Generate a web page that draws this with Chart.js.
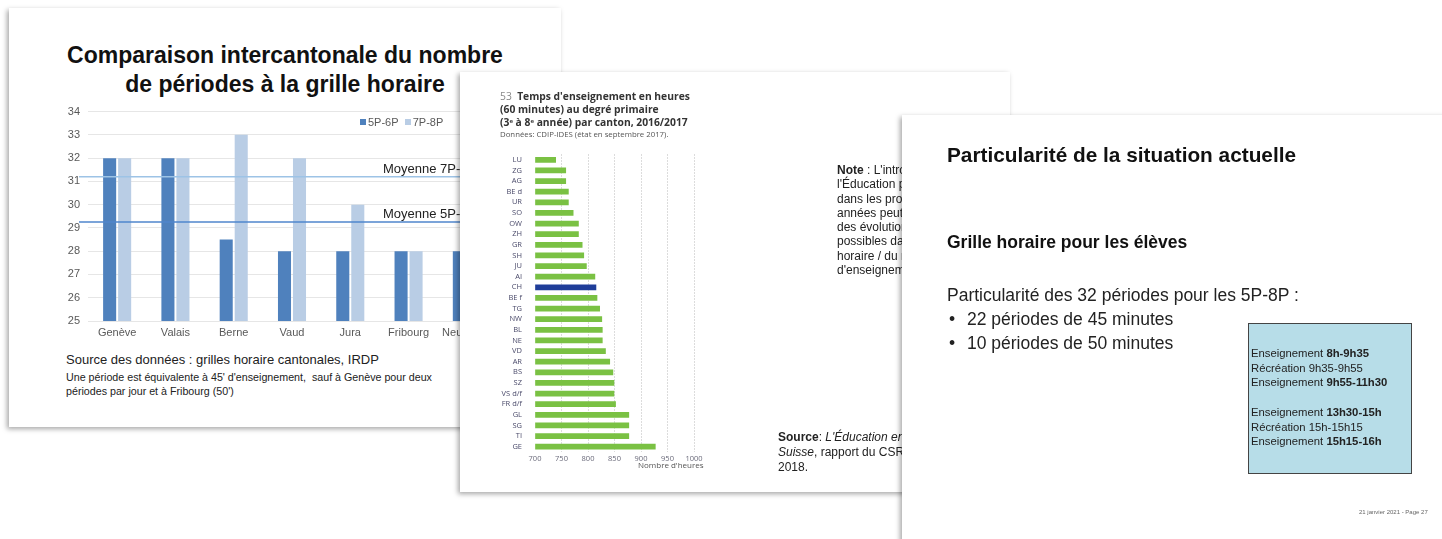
<!DOCTYPE html>
<html>
<head>
<meta charset="utf-8">
<title>Grille horaire</title>
<script src="https://cdn.jsdelivr.net/npm/chart.js"></script>
<style>
  body, html { margin: 0; width: 1442px; height: 539px; overflow: hidden; background: #fff; font-family: "Liberation Sans", Arial, sans-serif; }
  .slide { position: absolute; background: #fff; box-shadow: -2px 2px 5px rgba(0,0,0,0.35); overflow: hidden; }
  .abs { position: absolute; white-space: nowrap; }
  #s1 { left: 9px; top: 8px; width: 552px; height: 419px; z-index: 1; }
  #s2 { left: 460px; top: 72px; width: 550px; height: 420px; z-index: 2; }
  #s3 { left: 902px; top: 115px; width: 560px; height: 440px; z-index: 3; }
  .sq { display: inline-block; width: 6px; height: 6px; margin-right: 2px; vertical-align: 1px; }
  sup { font-size: 6px; line-height: 0; vertical-align: 3px; }
</style>
</head>
<body>
<div class="slide" id="s1">
  <div class="abs" style="left:0;width:552px;top:33px;text-align:center;font-weight:bold;font-size:23px;line-height:29px;color:#111;">Comparaison intercantonale du nombre<br>de périodes à la grille horaire</div>
  <canvas id="chart1" width="500" height="248" class="abs" style="left:41px;top:89px;"></canvas>
  <div class="abs" style="left:351px;top:108px;font-size:11px;color:#595959;"><span class="sq" style="background:#4f81bd"></span>5P-6P&nbsp;&nbsp;<span class="sq" style="background:#b9cde5"></span>7P-8P</div>
  <div class="abs" style="left:57px;top:344px;font-size:13px;color:#222;">Source des données : grilles horaire cantonales, IRDP</div>
  <div class="abs" style="left:57px;top:362px;font-size:10.7px;line-height:14px;color:#222;">Une période est équivalente à 45' d'enseignement,&nbsp; sauf à Genève pour deux<br>périodes par jour et à Fribourg (50')</div>
</div>

<div class="slide" id="s2">
  <div class="abs" style="left:40px;top:18px;font-family:'Open Sans',sans-serif;font-size:10.3px;line-height:13px;color:#333;font-weight:bold;"><span style="font-weight:normal;color:#888;">53</span>&nbsp; Temps d'enseignement en heures<br>(60 minutes) au degré primaire<br>(3<sup>e</sup> à 8<sup>e</sup> année) par canton, 2016/2017</div>
  <div class="abs" style="left:40px;top:57px;font-family:'Open Sans',sans-serif;font-size:7.8px;color:#555;">Données: CDIP-IDES (état en septembre 2017).</div>
  <canvas id="chart2" width="215" height="330" class="abs" style="left:30px;top:73px;"></canvas>
  <div class="abs" style="left:178px;top:387px;font-family:'Open Sans',sans-serif;font-size:8px;color:#555;">Nombre d'heures</div>
  <div class="abs" style="left:377px;top:91px;font-size:12px;line-height:14.3px;color:#222;"><b>Note</b> : L'introduction du Plan d'études<br>l'Éducation physique et sportive<br>dans les programmes de toutes les<br>années peut expliquer en partie<br>des évolutions du temps et les écarts<br>possibles dans la dotation de la grille<br>horaire / du nombre d'heures<br>d'enseignement selon les cantons.</div>
  <div class="abs" style="left:318px;top:358px;font-size:12px;line-height:15px;color:#222;"><b>Source</b>: <i>L'Éducation en</i><br><i>Suisse</i>, rapport du CSRE<br>2018.</div>
</div>

<div class="slide" id="s3">
  <div class="abs" style="left:45px;top:28px;font-weight:bold;font-size:20.8px;color:#111;">Particularité de la situation actuelle</div>
  <div class="abs" style="left:45px;top:117px;font-weight:bold;font-size:17.5px;color:#111;">Grille horaire pour les élèves</div>
  <div class="abs" style="left:45px;top:168px;font-size:17.5px;line-height:24px;color:#222;">Particularité des 32 périodes pour les 5P-8P :</div>
  <div class="abs" style="left:47px;top:192px;font-size:17.5px;line-height:24px;color:#222;">•</div>
  <div class="abs" style="left:65px;top:192px;font-size:17.5px;line-height:24px;color:#222;">22 périodes de 45 minutes<br>10 périodes de 50 minutes</div>
  <div class="abs" style="left:47px;top:216px;font-size:17.5px;line-height:24px;color:#222;">•</div>
  <div class="abs" style="left:346px;top:208px;width:162px;height:149px;background:#b7dde8;border:1px solid #444;"></div>
  <div class="abs" style="left:349px;top:231px;font-size:11.3px;line-height:14.7px;color:#222;">Enseignement <b>8h-9h35</b><br>Récréation 9h35-9h55<br>Enseignement <b>9h55-11h30</b><br><br>Enseignement <b>13h30-15h</b><br>Récréation 15h-15h15<br>Enseignement <b>15h15-16h</b></div>
  <div class="abs" style="left:457px;top:394px;font-size:6px;color:#666;">21 janvier 2021 - Page 27</div>
</div>

<script>
  // Slide 1: périodes par canton
  const cantons = ["Genève", "Valais", "Berne", "Vaud", "Jura", "Fribourg", "Neuchâtel"];
  const periodes5P6P = [32, 32, 28.5, 28, 28, 28, 28];
  const periodes7P8P = [32, 32, 33, 32, 30, 28, 30];
  const moyenneValues = [31.2, 29.25];
  const moyenneLabels = ["Moyenne 7P-8P", "Moyenne 5P-6P"];
  const moyenneColors = ["#9dc3e6", "#4f86cc"];

  // Slide 2: heures d'enseignement
  const codes = ["LU", "ZG", "AG", "BE d", "UR", "SO", "OW", "ZH", "GR", "SH", "JU", "AI", "CH", "BE f",
    "TG", "NW", "BL", "NE", "VD", "AR", "BS", "SZ", "VS d/f", "FR d/f", "GL", "SG", "TI", "GE"];
  const heures = [739, 758, 758, 763, 763, 772, 782, 782, 789, 792, 797, 813, 815, 817,
    822, 826, 827, 827, 833, 841, 847, 849, 849, 852, 877, 877, 877, 927];
  const heuresTicks = [700, 750, 800, 850, 900, 950, 1000];

  const meanLines = {
    id: "meanLines",
    afterDatasetsDraw(chart) {
      const { ctx, chartArea, scales } = chart;
      moyenneValues.forEach((v, i) => {
        const py = scales.y.getPixelForValue(v);
        ctx.save();
        ctx.strokeStyle = moyenneColors[i];
        ctx.lineWidth = 1.5;
        ctx.beginPath();
        ctx.moveTo(chartArea.left - 9, py);
        ctx.lineTo(chart.width, py);
        ctx.stroke();
        ctx.fillStyle = "#222";
        ctx.font = "13px 'Liberation Sans', Arial";
        ctx.fillText(moyenneLabels[i], chartArea.left + 295, py - 4);
        ctx.restore();
      });
    }
  };

  new Chart(document.getElementById("chart1"), {
    type: "bar",
    data: {
      labels: cantons,
      datasets: [
        { label: "5P-6P", data: periodes5P6P, backgroundColor: "#4f81bd" },
        { label: "7P-8P", data: periodes7P8P, backgroundColor: "#b9cde5" }
      ]
    },
    options: {
      responsive: false,
      animation: false,
      categoryPercentage: 0.515,
      barPercentage: 0.87,
      layout: { padding: { top: 7, right: 54, left: 0, bottom: 0 } },
      plugins: { legend: { display: false }, tooltip: { enabled: false } },
      scales: {
        x: {
          grid: { display: false, drawTicks: false },
          border: { display: false },
          ticks: { color: "#595959", font: { family: "Liberation Sans", size: 11 }, padding: 5 },
          afterFit: (s) => { s.height = 24; }
        },
        y: {
          min: 25, max: 34,
          ticks: { stepSize: 1, color: "#595959", font: { family: "Liberation Sans", size: 11 }, padding: 8 },
          grid: { color: "#e6e6e6", drawTicks: false },
          border: { display: false },
          afterFit: (s) => { s.width = 38; }
        }
      }
    },
    plugins: [meanLines]
  });

  new Chart(document.getElementById("chart2"), {
    type: "bar",
    data: {
      labels: codes,
      datasets: [{
        data: heures,
        backgroundColor: codes.map(c => c === "CH" ? "#1f3d99" : "#7ac143"),
        barThickness: 5,
        base: 700
      }]
    },
    options: {
      indexAxis: "y",
      responsive: false,
      animation: false,
      layout: { padding: { top: 8, right: 11, left: 0, bottom: 0 } },
      plugins: { legend: { display: false }, tooltip: { enabled: false } },
      scales: {
        x: {
          min: 700, max: 1000,
          afterBuildTicks: (s) => { s.ticks = heuresTicks.map(v => ({ value: v })); },
          ticks: { color: "#6a6a7a", font: { family: "Open Sans", size: 7.5 }, padding: 2, callback: (v) => String(v) },
          grid: { color: (c) => c.tick && c.tick.value === 700 ? "rgba(0,0,0,0)" : "#b8b8b8", drawTicks: false },
          border: { display: false, dash: [1, 2] },
          afterFit: (s) => { s.height = 23; }
        },
        y: {
          ticks: { color: "#4a4a6a", font: { family: "Open Sans", size: 7.5 }, padding: 5, autoSkip: false },
          grid: { display: false },
          border: { display: false },
          afterFit: (s) => { s.width = 45; }
        }
      }
    }
  });
</script>
</body>
</html>
